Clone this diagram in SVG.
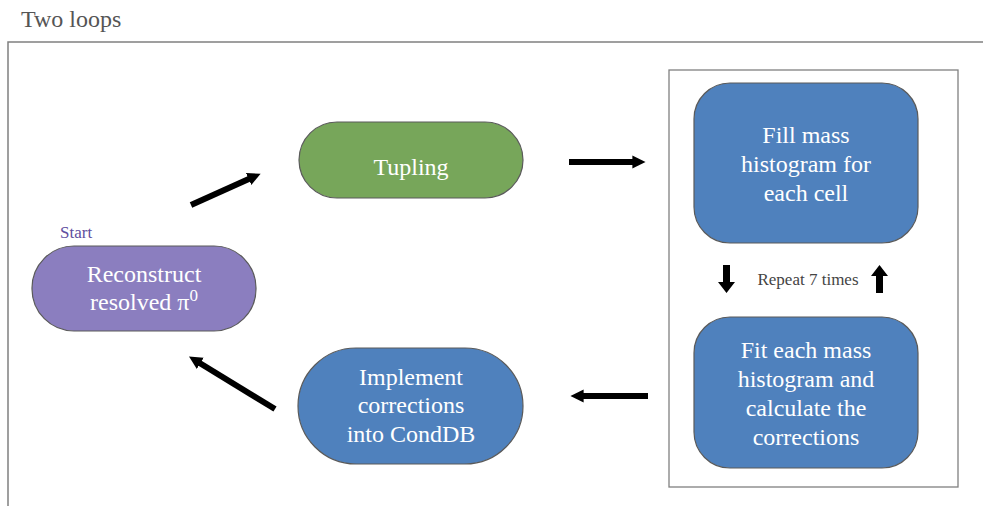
<svg xmlns="http://www.w3.org/2000/svg" width="983" height="506" viewBox="0 0 983 506">
  <defs>
    <marker id="head" viewBox="0 0 10 10" refX="2" refY="5" markerWidth="2.2" markerHeight="2.4" orient="auto" markerUnits="strokeWidth">
      <path d="M0,0 L10,5 L0,10 Z" fill="#000"/>
    </marker>
    <style>
      .title { font-family: "Liberation Serif", "Times New Roman", serif; font-size: 24px; fill: #555; }
      .frame { fill: none; stroke: #808080; stroke-width: 1.5; }
      .box { fill: none; stroke: #808080; stroke-width: 1.3; }
      .node { stroke: #5a5a5a; stroke-width: 1.2; }
      .purple { fill: #8b7ebf; }
      .green { fill: #77a65a; }
      .blue { fill: #4f81bd; }
      .label { font-family: "Liberation Serif", "Times New Roman", serif; font-size: 24px; fill: #fff; text-anchor: middle; }
      .small { font-family: "Liberation Serif", "Times New Roman", serif; font-size: 17px; fill: #444; text-anchor: middle; }
      .start { font-family: "Liberation Serif", "Times New Roman", serif; font-size: 17px; fill: #5f4ea0; }
      .arrow { stroke: #000; stroke-width: 6; fill: none; marker-end: url(#head); }
    </style>
  </defs>

  <text class="title" x="21" y="27">Two loops</text>
  <path class="frame" d="M8,506 L8,42 L983,42"/>

  <!-- inner loop container -->
  <rect class="box" x="669" y="70" width="289" height="417"/>

  <g id="start">
    <text class="start" x="60" y="238">Start</text>
    <rect class="node purple" x="32" y="246" width="224" height="85" rx="42" ry="42"/>
    <text class="label" x="144" y="282">Reconstruct</text>
    <text class="label" x="144" y="310">resolved π<tspan dy="-9" font-size="17">0</tspan></text>
  </g>

  <g id="tupling">
    <rect class="node green" x="299" y="122" width="224" height="76" rx="38" ry="38"/>
    <text class="label" x="411" y="175">Tupling</text>
  </g>

  <g id="fill">
    <rect class="node blue" x="694" y="83" width="224" height="160" rx="36" ry="36"/>
    <text class="label" x="806" y="143">Fill mass</text>
    <text class="label" x="806" y="172">histogram for</text>
    <text class="label" x="806" y="201">each cell</text>
  </g>

  <g id="fit">
    <rect class="node blue" x="694" y="317" width="224" height="151" rx="36" ry="36"/>
    <text class="label" x="806" y="358">Fit each mass</text>
    <text class="label" x="806" y="387">histogram and</text>
    <text class="label" x="806" y="416">calculate the</text>
    <text class="label" x="806" y="445">corrections</text>
  </g>

  <g id="implement">
    <rect class="node blue" x="298" y="348" width="225" height="116" rx="58" ry="58"/>
    <text class="label" x="411" y="385">Implement</text>
    <text class="label" x="411" y="413">corrections</text>
    <text class="label" x="411" y="442">into CondDB</text>
  </g>

  <g id="repeat">
    <text class="small" x="808" y="285">Repeat 7 times</text>
  </g>

  <g id="connectors">
    <line class="arrow" x1="191" y1="205" x2="251" y2="178"/>
    <line class="arrow" x1="569" y1="162" x2="635" y2="162"/>
    <line class="arrow" x1="648" y1="396" x2="581" y2="396"/>
    <line class="arrow" x1="275" y1="409" x2="198" y2="362"/>
    <!-- repeat arrows -->
    <path d="M723,265 L730,265 L730,282 L735,282 L726.5,293 L718,282 L723,282 Z" fill="#000"/>
    <path d="M876,293 L883,293 L883,276 L888,276 L879.5,265 L871,276 L876,276 Z" fill="#000"/>
  </g>
</svg>
